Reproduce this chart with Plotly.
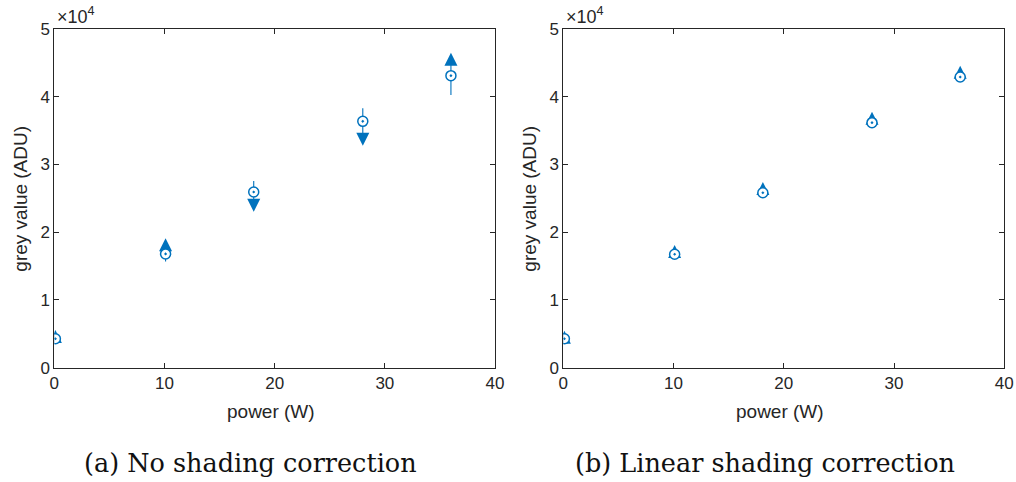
import plotly.graph_objects as go

# Heater power (W) for the five measurements
power = [0.1, 10.1, 18.1, 28.0, 36.0]

# (a) No shading correction: measured mean grey value and its spread
grey_a = [4280, 16800, 25940, 36370, 43110]
err_a = [300, 1130, 1620, 1930, 2850]
# expected grey value (tip of the triangle) and its side relative to the mean
expected_a = [5560, 19100, 23030, 32770, 46500]
side_a = ["up", "up", "down", "down", "up"]

# (b) Linear shading correction
grey_b = [4280, 16740, 25830, 36170, 42910]
err_b = [200, 200, 200, 200, 250]
expected_b = [5460, 18110, 27410, 37790, 44580]
side_b = ["up", "up", "up", "up", "up"]

y_ticks = [0, 10000, 20000, 30000, 40000, 50000]
y_tick_text = ["0", "1", "2", "3", "4", "5"]
x_ticks = [0, 10, 20, 30, 40]
captions = ["(a) No shading correction", "(b) Linear shading correction"]

BLUE = "#0072BD"
AXIS = "#262626"
SANS = "Liberation Sans, Arial, sans-serif"
W, H = 1016, 482

fig = go.Figure()

panels = [
    ("x", "y", grey_a, err_a, expected_a, side_a),
    ("x2", "y2", grey_b, err_b, expected_b, side_b),
]
for xa, ya, grey, err, expected, side in panels:
    fig.add_trace(go.Scatter(
        x=power, y=expected, xaxis=xa, yaxis=ya, mode="markers",
        marker=dict(symbol=["arrow-" + s for s in side], size=13,
                    color=BLUE, line=dict(width=0)),
        showlegend=False, hoverinfo="skip",
    ))
    fig.add_trace(go.Scatter(
        x=power, y=grey, xaxis=xa, yaxis=ya, mode="markers",
        marker=dict(symbol="circle-dot", size=10, color="white",
                    line=dict(color=BLUE, width=1.5)),
        error_y=dict(type="data", array=err, visible=True, width=0,
                     thickness=1.1, color=BLUE),
        showlegend=False,
    ))

x_domains = [[54.3 / W, 495.0 / W], [563.3 / W, 1004.3 / W]]
y_domain = [(H - 367.7) / H, (H - 29.0) / H]

axis_common = dict(
    showline=True, linecolor=AXIS, linewidth=1, mirror="allticks",
    ticks="inside", ticklen=5, tickwidth=1, tickcolor=AXIS,
    showgrid=False, zeroline=False,
    tickfont=dict(family=SANS, size=17, color=AXIS),
)

layout = dict(
    width=W, height=H, margin=dict(l=0, r=0, t=0, b=0),
    paper_bgcolor="white", plot_bgcolor="white",
)
for i, (xn, yn) in enumerate([("xaxis", "yaxis"), ("xaxis2", "yaxis2")]):
    anchor_x = "y" if i == 0 else "y2"
    anchor_y = "x" if i == 0 else "x2"
    layout[xn] = dict(axis_common, domain=x_domains[i], range=[0, 40],
                      tickvals=x_ticks, anchor=anchor_x, automargin=False)
    layout[yn] = dict(axis_common, domain=y_domain, range=[0, 50000],
                      tickvals=y_ticks, ticktext=y_tick_text,
                      anchor=anchor_y, automargin=False)
fig.update_layout(**layout)

label_font = dict(family=SANS, size=19, color=AXIS)
annotations = []
for i in range(2):
    x0, x1 = x_domains[i]
    annotations.append(dict(
        text="power (W)", xref="paper", yref="paper",
        x=(x0 + x1) / 2 - 4 / W, y=(H - 411) / H, showarrow=False,
        font=label_font, xanchor="center", yanchor="middle"))
    annotations.append(dict(
        text="grey value (ADU)", xref="paper", yref="paper",
        x=(x0 * W - 34) / W, y=sum(y_domain) / 2, showarrow=False,
        textangle=-90, font=label_font, xanchor="center", yanchor="middle"))
    annotations.append(dict(
        text="×10<sup>4</sup>", xref="paper", yref="paper",
        x=(x0 * W + 1) / W, y=(H - 16) / H, showarrow=False,
        font=dict(family=SANS, size=18, color=AXIS),
        xanchor="left", yanchor="middle"))
    annotations.append(dict(
        text=captions[i], xref="paper", yref="paper",
        x=[250, 765][i] / W, y=(H - 463) / H, showarrow=False,
        font=dict(family="DejaVu Serif, serif", size=25.5, color="#111111"),
        xanchor="center", yanchor="middle"))
fig.update_layout(annotations=annotations)

fig.write_html("out.html")
